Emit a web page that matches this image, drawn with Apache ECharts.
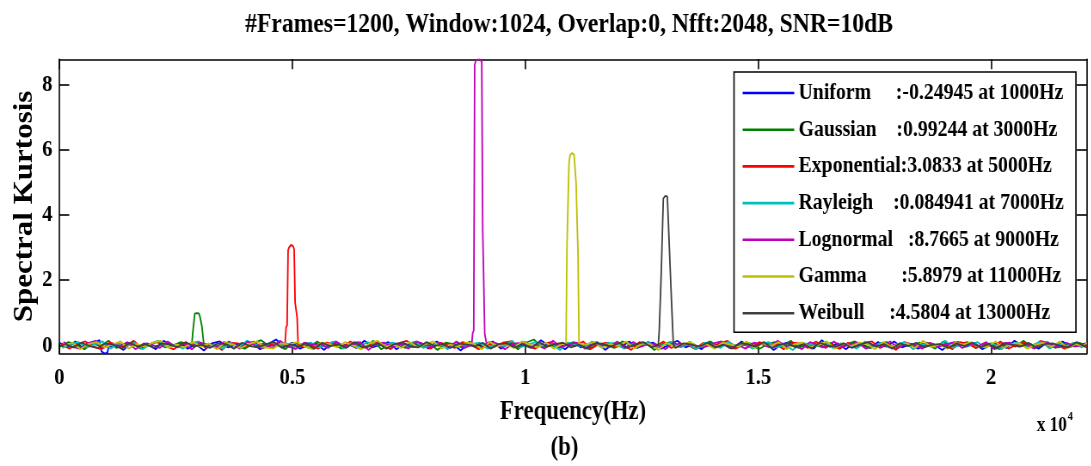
<!DOCTYPE html>
<html>
<head>
<meta charset="utf-8">
<script src="https://cdn.jsdelivr.net/npm/echarts@6/dist/echarts.min.js"></script>
<style>
  html, body { margin: 0; padding: 0; background: #fff; overflow: hidden; }
  #wrap { width: 1091px; height: 466px; overflow: hidden; }
  /* the figure is laid out wider and compressed horizontally, like the printed original */
  #chart { width: 1269px; height: 466px; transform: scaleX(0.86); transform-origin: 0 0; }
</style>
</head>
<body>
<div id="wrap"><div id="chart"></div></div>
<script>
// Spectral kurtosis of a 1024-sample window, Nfft 2048, fs 44100 Hz
const binHz = 44100 / 2048;
const noiseStep = 8;          // baseline sampled every 8th FFT bin
const xTicks = [0, 5000, 10000, 15000, 20000];
const yTicks = [0, 2, 4, 6, 8];

const seriesNames = ['Uniform', 'Gaussian', 'Exponential', 'Rayleigh', 'Lognormal', 'Gamma', 'Weibull'];
const legendLabels = ['Uniform     ', 'Gaussian    ', 'Exponential', 'Rayleigh    ', 'Lognormal   ', 'Gamma       ', 'Weibull     '];
const seriesColors = ['#0000ff', '#008000', '#ff0000', '#00bfbf', '#bf00bf', '#bfbf00', '#404040'];
const peakValues = [-0.24945, 0.99244, 3.0833, 0.084941, 8.7665, 5.8979, 4.5804];
const peakFreqs = [1000, 3000, 5000, 7000, 9000, 11000, 13000];

// first FFT bin of each tone's profile
const peakStartBins = [41, 132, 225, 323, 411, 505, 597];
const uniformPeak = [-0.04, -0.19, -0.22, -0.23, -0.24, -0.24945, -0.24, -0.21, -0.05];
const gaussianPeak = [0.02, 0.39, 0.40, 0.97, 0.98, 0.99, 0.99244, 0.98, 0.90, 0.88, 0.60, 0.58, 0.03];
const exponentialPeak = [0.03, 0.55, 0.62, 2.92, 3.00, 3.06, 3.08, 3.0833, 3.04, 2.95, 1.31, 1.28, 0.85, 0.02];
const rayleighPeak = [0.05, 0.08, 0.084941, 0.07, 0.03];
const lognormalPeak = [0.02, 0.38, 0.45, 8.60, 8.72, 8.75, 8.76, 8.7665, 8.76, 8.74, 8.70, 3.50, 3.45, 0.35, 0.30, 0.02];
const gammaPeak = [0.03, 3.08, 3.12, 5.60, 5.82, 5.87, 5.8979, 5.88, 5.85, 5.80, 4.99, 4.95, 2.76, 0.05];
const weibullPeak = [0.02, 0.50, 0.52, 2.30, 2.35, 4.50, 4.55, 4.5804, 4.57, 4.56, 4.55, 3.00, 2.98, 1.47, 1.45, 0.02];

// baseline kurtosis away from the tones
const uniformNoise = [
  0.08,-0.06,0.12,-0.10,0.04,0.16,-0.08,0.02,-0.14,0.10,-0.04,0.06,-0.12,0.14,-0.02,0.08,
  -0.10,0.04,-0.16,0.06,0.12,-0.06,0.02,-0.08,0.10,-0.12,0.04,0.18,-0.04,0.08,-0.10,0.02,
  0.06,-0.14,0.10,-0.02,0.04,-0.08,0.14,-0.06,0.02,0.10,-0.12,0.06,-0.04,0.08,-0.10,0.12,
  -0.02,0.04,-0.16,0.08,0.02,-0.06,0.12,-0.10,0.06,-0.04,0.10,-0.08,0.16,-0.02,0.04,-0.12,
  0.08,-0.06,0.02,0.10,-0.14,0.06,-0.04,0.12,-0.08,0.04,0.08,-0.10,0.02,0.14,-0.06,0.04,
  -0.12,0.10,-0.02,0.06,-0.08,0.12,-0.04,0.02,0.08,-0.14,0.04,0.10,-0.06,0.02,-0.10,0.16,
  -0.04,0.06,-0.12,0.08,0.02,-0.08,0.10,-0.04,0.12,-0.06,0.04,-0.10,0.08,0.02,-0.14,0.06,
  0.10,-0.04,0.08,-0.12,0.02,0.06,-0.08,0.14,-0.02,0.04,-0.10,0.08,-0.06,0.12,-0.04,0.02,
  0.06];
const gaussianNoise = [
  -0.04,0.10,0.02,-0.12,0.06,-0.02,0.14,-0.08,0.04,0.08,-0.10,0.02,0.12,-0.06,-0.02,0.10,
  0.04,-0.14,0.08,0.02,-0.06,0.12,-0.04,-0.10,0.06,0.16,-0.02,0.04,-0.12,0.08,0.02,-0.08,
  0.12,-0.04,0.06,-0.10,0.02,0.10,-0.06,0.14,-0.12,0.04,0.02,-0.08,0.10,-0.04,0.06,-0.14,
  0.08,0.04,-0.06,0.12,-0.10,0.02,0.06,-0.04,0.10,-0.12,0.08,0.18,-0.06,0.02,-0.08,0.04,
  0.10,-0.02,-0.12,0.06,0.04,-0.08,0.12,0.02,-0.06,0.08,-0.14,0.04,0.10,-0.04,0.06,-0.10,
  0.02,0.12,-0.06,0.04,-0.10,0.08,0.06,-0.12,0.02,0.10,-0.04,0.14,-0.08,0.04,0.02,-0.06,
  0.08,-0.10,0.04,0.12,-0.02,-0.08,0.06,0.10,-0.12,0.04,-0.04,0.08,0.02,-0.10,0.12,-0.06,
  0.04,0.10,-0.08,0.02,0.06,-0.12,0.08,-0.04,0.14,-0.06,0.02,0.10,-0.08,0.04,-0.02,0.08,
  -0.04];
const exponentialNoise = [
  0.06,-0.10,0.04,0.12,-0.04,-0.12,0.08,0.02,-0.06,0.14,-0.08,0.04,0.10,-0.02,-0.12,0.06,
  0.02,0.10,-0.08,0.04,-0.14,0.08,0.06,-0.04,0.12,-0.10,0.02,0.06,-0.08,0.16,-0.04,0.02,
  -0.10,0.08,0.04,-0.06,0.12,-0.02,-0.08,0.10,0.04,-0.12,0.06,0.14,-0.04,0.02,-0.10,0.08,
  0.04,-0.08,0.10,0.02,-0.12,0.06,-0.04,0.08,0.12,-0.06,0.02,-0.10,0.04,0.10,-0.08,0.06,
  -0.02,0.12,-0.10,0.04,0.08,-0.06,0.02,-0.14,0.10,0.04,-0.04,0.12,-0.08,0.06,0.02,-0.10,
  0.08,-0.04,0.06,0.14,-0.10,0.02,-0.06,0.10,-0.02,0.04,-0.12,0.08,0.06,-0.08,0.12,-0.04,
  0.02,-0.10,0.08,-0.04,0.06,0.12,-0.08,0.04,-0.14,0.10,0.02,-0.06,0.08,-0.02,0.04,-0.12,
  0.10,0.04,-0.08,0.06,-0.04,0.12,-0.10,0.02,0.08,-0.06,0.14,-0.04,0.02,-0.10,0.06,0.04,
  -0.06];
const rayleighNoise = [
  -0.08,0.04,0.10,-0.06,0.02,0.12,-0.10,0.06,-0.02,0.08,-0.12,0.04,0.14,-0.06,0.02,-0.10,
  0.06,0.12,-0.04,0.02,-0.10,0.08,-0.06,0.14,0.04,-0.08,0.10,-0.02,0.06,-0.12,0.04,0.08,
  -0.06,0.02,0.12,-0.10,0.06,-0.04,0.10,0.02,-0.12,0.08,0.04,-0.06,0.12,-0.08,0.02,0.06,
  -0.12,0.10,-0.02,0.04,0.08,-0.10,0.06,-0.04,0.14,-0.06,0.02,0.10,-0.08,0.04,-0.14,0.08,
  0.02,-0.06,0.12,-0.04,0.08,0.04,-0.10,0.06,-0.02,0.12,-0.08,0.02,0.10,-0.06,0.04,-0.12,
  0.08,0.02,-0.08,0.12,-0.04,0.06,-0.10,0.04,0.10,-0.06,0.02,-0.14,0.08,0.04,-0.02,0.10,
  -0.08,0.06,0.02,-0.10,0.12,-0.04,0.08,-0.06,0.04,0.10,-0.12,0.02,0.06,-0.04,0.14,-0.08,
  0.04,-0.02,0.10,-0.08,0.06,-0.12,0.04,0.08,-0.04,0.02,0.12,-0.10,0.06,-0.02,0.08,-0.06,
  0.04];
const lognormalNoise = [
  0.10,-0.04,-0.10,0.06,0.14,-0.08,0.04,-0.02,0.10,-0.12,0.06,0.02,-0.08,0.12,-0.04,0.04,
  -0.12,0.08,0.02,-0.06,0.10,0.04,-0.10,0.12,-0.02,0.06,-0.08,0.14,-0.04,-0.10,0.08,0.02,
  0.04,-0.08,0.12,-0.04,0.02,0.10,-0.14,0.06,0.08,-0.06,0.04,-0.10,0.12,0.02,-0.04,0.08,
  -0.06,0.12,-0.08,0.04,-0.02,0.10,0.06,-0.12,0.04,0.08,-0.04,0.02,-0.10,0.14,-0.06,0.04,
  0.08,-0.10,0.04,0.02,-0.06,0.12,-0.08,0.10,-0.04,0.06,0.02,-0.12,0.08,-0.02,0.10,-0.06,
  -0.04,0.06,0.12,-0.08,0.02,-0.10,0.08,0.04,-0.06,0.14,-0.02,0.04,-0.12,0.10,0.02,-0.08,
  0.12,-0.06,0.04,0.08,-0.10,0.02,-0.04,0.12,-0.08,0.06,0.04,-0.10,0.08,-0.04,0.02,0.10,
  -0.08,0.04,-0.02,0.10,-0.12,0.06,0.08,-0.04,0.02,-0.10,0.12,0.04,-0.06,0.08,-0.04,0.02,
  0.06];
const gammaNoise = [
  -0.02,0.08,-0.12,0.04,0.10,-0.06,0.02,0.12,-0.10,0.04,-0.04,0.08,0.14,-0.08,0.02,-0.06,
  0.10,-0.04,0.06,-0.12,0.08,0.02,-0.08,0.04,0.12,-0.06,-0.10,0.06,0.02,0.10,-0.04,-0.12,
  0.08,0.04,-0.06,0.10,-0.02,-0.12,0.06,0.14,-0.04,0.02,-0.08,0.10,-0.06,0.04,0.12,-0.10,
  0.02,-0.04,0.08,0.06,-0.12,0.10,-0.02,0.04,-0.08,0.12,0.02,-0.06,0.08,-0.10,0.04,0.16,
  -0.06,0.02,0.10,-0.08,0.04,-0.02,0.12,-0.10,0.06,0.04,-0.14,0.08,-0.04,0.02,0.10,-0.06,
  0.04,-0.10,0.08,0.02,-0.04,0.12,-0.08,0.06,-0.02,0.10,-0.12,0.04,0.08,-0.06,0.02,0.12,
  -0.10,0.06,-0.02,0.08,0.04,-0.12,0.10,-0.04,0.02,0.06,-0.08,0.14,-0.06,0.04,-0.10,0.08,
  0.02,0.10,-0.06,-0.04,0.12,-0.08,0.04,0.06,-0.10,0.02,0.08,-0.04,0.12,-0.08,0.04,-0.02,
  0.08];
const weibullNoise = [
  0.04,-0.06,0.08,-0.02,-0.08,0.06,0.02,-0.10,0.08,-0.04,0.04,-0.08,0.06,0.02,-0.06,0.10,
  -0.04,0.02,-0.08,0.06,0.04,-0.10,0.08,-0.02,-0.06,0.04,0.10,-0.08,0.02,-0.04,0.06,-0.10,
  0.08,-0.02,0.04,-0.08,0.10,-0.06,-0.02,0.06,-0.10,0.04,0.08,-0.04,-0.06,0.10,-0.02,0.04,
  -0.08,0.06,0.02,-0.04,0.08,-0.10,0.04,0.06,-0.06,0.02,-0.08,0.10,-0.04,0.04,0.08,-0.06,
  0.02,-0.10,0.06,0.04,-0.04,0.08,-0.08,0.02,0.10,-0.06,0.04,-0.02,-0.08,0.06,0.02,-0.04,
  0.08,-0.06,0.02,-0.10,0.06,0.04,-0.04,0.10,-0.08,0.02,0.06,-0.06,0.04,-0.10,0.08,-0.02,
  -0.04,0.06,-0.08,0.02,0.10,-0.04,0.04,-0.10,0.06,-0.02,0.08,-0.06,0.02,0.04,-0.08,0.06,
  -0.02,0.08,-0.06,0.04,-0.10,0.06,0.02,-0.04,0.08,-0.08,0.04,0.06,-0.02,-0.06,0.10,-0.04,
  0.02];

const noiseSets = [uniformNoise, gaussianNoise, exponentialNoise, rayleighNoise, lognormalNoise, gammaNoise, weibullNoise];
const peakProfiles = [uniformPeak, gaussianPeak, exponentialPeak, rayleighPeak, lognormalPeak, gammaPeak, weibullPeak];

const SERIF = '"Liberation Serif", "Times New Roman", serif';
const lastBin = 1024;

// merge the sparse baseline with the dense tone profile, then convert bins to Hz
function buildData(i) {
  const start = peakStartBins[i];
  const prof = peakProfiles[i];
  const end = start + prof.length - 1;
  const pts = [];
  noiseSets[i].forEach(function (v, k) {
    const bin = Math.min(k * noiseStep + i, lastBin);
    if (bin < start || bin > end) pts.push([bin, v]);
  });
  prof.forEach(function (v, j) { pts.push([start + j, v]); });
  pts.sort(function (a, b) { return a[0] - b[0]; });
  return pts.map(function (p) { return [p[0] * binHz, p[1]]; });
}

const xMax = lastBin * binHz;
const yMin = Math.min.apply(null, peakValues);
const yMax = Math.max.apply(null, peakValues);

const boxLine = { show: true, onZero: false, lineStyle: { color: '#000', width: 1.6 } };
const tickX = { show: true, inside: true, length: 10, customValues: xTicks, lineStyle: { color: '#000', width: 1.6 } };
const tickY = { show: true, inside: true, length: 11.5, customValues: yTicks, lineStyle: { color: '#000', width: 1.6 } };
const labelFont = { fontFamily: SERIF, fontWeight: 'bold', fontSize: 24, color: '#000' };

const chart = echarts.init(document.getElementById('chart'), null, { renderer: 'canvas' });

chart.setOption({
  animation: false,
  backgroundColor: '#fff',
  grid: { left: 69, right: 5.4, top: 59.3, bottom: 112.5, containLabel: false, outerBoundsMode: 'none' },
  xAxis: [
    {
      type: 'value', min: 0, max: xMax, position: 'bottom',
      axisLine: boxLine, axisTick: tickX, splitLine: { show: false },
      axisLabel: Object.assign({ margin: 12, customValues: xTicks,
        formatter: function (v) { return String(v / 10000); } }, labelFont),
      name: 'Frequency(Hz)\n(b)   ', nameLocation: 'middle', nameGap: 41, nameMoveOverlap: false,
      nameTextStyle: { fontFamily: SERIF, fontWeight: 'bold', fontSize: 26.5, color: '#000', lineHeight: 36 }
    },
    {
      type: 'value', min: 0, max: xMax, position: 'top',
      axisLine: boxLine, axisTick: tickX, axisLabel: { show: false }, splitLine: { show: false }
    }
  ],
  yAxis: [
    {
      type: 'value', min: yMin, max: yMax, position: 'left',
      axisLine: boxLine, axisTick: tickY, splitLine: { show: false },
      axisLabel: Object.assign({ margin: 8, customValues: yTicks }, labelFont),
      name: 'Spectral Kurtosis', nameLocation: 'middle', nameGap: 25, nameRotate: 90, nameMoveOverlap: false,
      nameTextStyle: { fontFamily: SERIF, fontWeight: 'bold', fontSize: 31, color: '#000' }
    },
    {
      type: 'value', min: yMin, max: yMax, position: 'right',
      axisLine: boxLine, axisTick: tickY, axisLabel: { show: false }, splitLine: { show: false }
    }
  ],
  legend: {
    orient: 'vertical', left: 853.5, top: 72,
    backgroundColor: '#fff', borderColor: '#000', borderWidth: 1.6,
    padding: [9.5, 14, 7.5, 10],
    icon: 'rect', itemWidth: 60, itemHeight: 2.6, itemGap: 13.7,
    textStyle: { fontFamily: SERIF, fontWeight: 'bold', fontSize: 23, lineHeight: 23, color: '#000' },
    formatter: function (name) {
      const i = seriesNames.indexOf(name);
      return legendLabels[i] + ':' + peakValues[i] + ' at ' + peakFreqs[i] + 'Hz';
    }
  },
  graphic: [
    {
      type: 'text', x: 661.6, y: 25,
      style: { text: '#Frames=1200, Window:1024, Overlap:0, Nfft:2048, SNR=10dB',
        fontFamily: SERIF, fontWeight: 'bold', fontSize: 27.5, fill: '#000', align: 'center', verticalAlign: 'middle' }
    },
    {
      type: 'text', x: 1240.5, y: 426,
      style: { text: 'x 10', fontFamily: SERIF, fontWeight: 'bold', fontSize: 20, fill: '#000', align: 'right', verticalAlign: 'middle' }
    },
    {
      type: 'text', x: 1241.5, y: 417,
      style: { text: '4', fontFamily: SERIF, fontWeight: 'bold', fontSize: 12, fill: '#000', align: 'left', verticalAlign: 'middle' }
    }
  ],
  series: seriesNames.map(function (name, i) {
    return {
      name: name, type: 'line', data: buildData(i),
      showSymbol: false, symbol: 'none', clip: true,
      lineStyle: { color: seriesColors[i], width: 1.8 },
      itemStyle: { color: seriesColors[i] },
      emphasis: { disabled: true }
    };
  })
});
</script>
</body>
</html>
